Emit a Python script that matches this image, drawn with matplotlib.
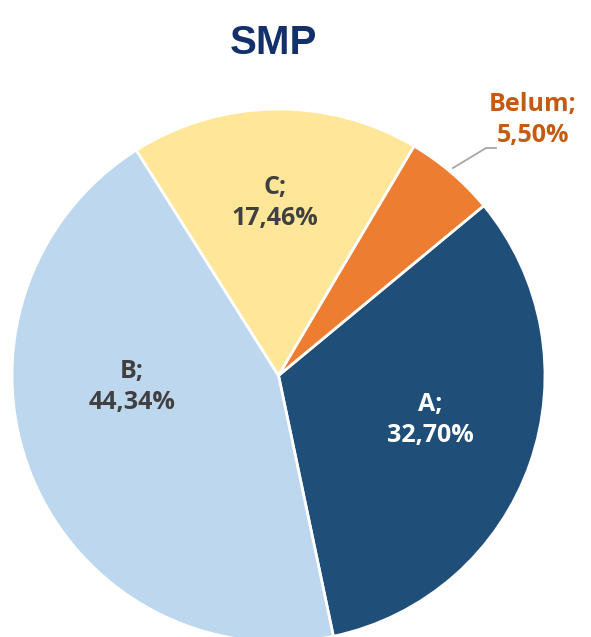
import matplotlib
matplotlib.use("Agg")
import matplotlib.pyplot as plt

# ── Data ───────────────────────────────────────────────────────────────────
categories = ["A", "B", "C", "Belum"]
shares = [32.70, 44.34, 17.46, 5.50]
colors = ["#1F4E79", "#BDD7EE", "#FFE699", "#ED7D31"]
label_colors = ["white", "#404040", "#404040", "#C55A11"]

W, H = 591, 637
fig = plt.figure(figsize=(W / 100, H / 100), dpi=100)
ax = fig.add_axes([0, 0, 1, 1])

def py(y):  # image row -> axis y
    return H - y

cx, cy, r = 278.5, 375.5, 266.5
ax.pie(shares, colors=colors, startangle=39.6, counterclock=False,
       center=(cx, py(cy)), radius=r, frame=True,
       wedgeprops=dict(edgecolor="white", linewidth=2.0))
ax.set_xlim(0, W)
ax.set_ylim(0, H)
ax.axis("off")

# label positions (image pixels) and text
label_pos = [(430, 420), (132, 387), (275, 203), (533, 120)]
for cat, val, (lx, ly), col in zip(categories, shares, label_pos, label_colors):
    txt = f"{cat};\n{val:.2f}%".replace(".", ",")
    ax.text(lx, py(ly), txt, ha="center", va="center", color=col,
            fontsize=18, fontweight="bold", family="Open Sans", linespacing=1.3)

# leader line for the small slice
ax.plot([453, 486, 496], [py(168), py(148), py(148)], color="#A6A6A6", lw=1.3)

ax.text(273, py(43), "SMP", ha="center", va="center", color="#13306A",
        fontsize=29, fontweight="bold", family="Liberation Sans")

fig.savefig("out.png", dpi=100)
